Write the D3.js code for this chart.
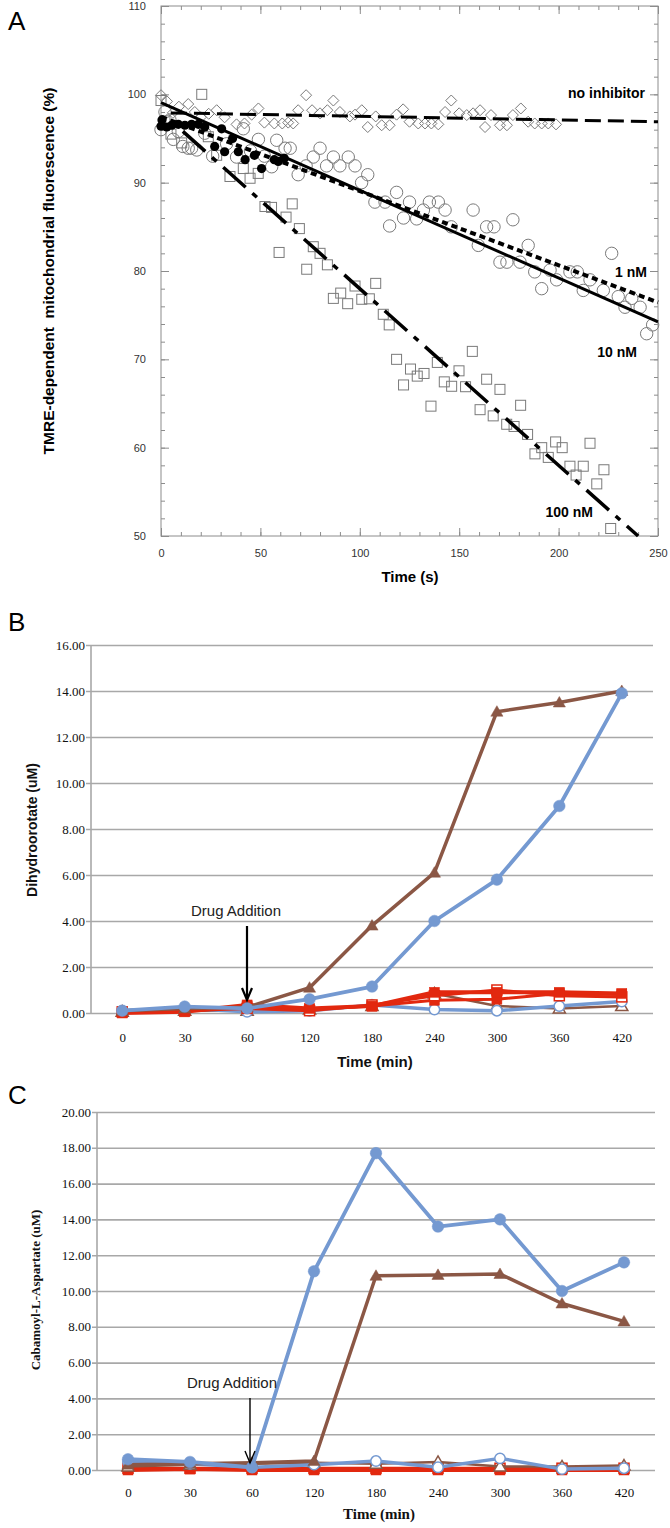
<!DOCTYPE html>
<html><head><meta charset="utf-8">
<script src="https://cdn.jsdelivr.net/npm/d3@7"></script>
<style>body{margin:0;background:#fff}</style>
</head><body><svg id="c" width="670" height="1528" xmlns="http://www.w3.org/2000/svg"></svg>
<script>
// ---------------- Panel A data ----------------
const aXTicks = [0, 50, 100, 150, 200, 250];
const aYTicks = [50, 60, 70, 80, 90, 100, 110];
const noInhibitorPts = [[0,99.9],[3,99.2],[6,97.9],[9,98.6],[13.7,98.9],[17,98.0],[20,97.4],[24,97.8],[28,98.2],[32,97.4],[38,96.6],[42,96.7],[45.6,97.7],[49,98.4],[52,96.8],[57,96.7],[61,96.7],[64,96.8],[66.5,96.7],[69,98.2],[73,99.9],[76,98.2],[80,97.85],[83.7,98.2],[86.7,99.3],[90,98.0],[95,97.5],[97.6,97.7],[101,98.2],[104,96.3],[108,97.5],[111,96.5],[115,96.5],[118.5,97.7],[121.8,98.3],[125,96.9],[129.4,96.7],[132.8,96.7],[136,96.7],[139.5,96.6],[142.9,98.0],[146,99.3],[150,97.85],[153.8,97.65],[157,97.85],[160.5,98.2],[163,96.3],[166,97.65],[170.5,96.5],[174,96.5],[177,97.65],[181,98.4],[184.7,96.9],[188,96.7],[191.5,96.7],[194.8,96.7],[198.7,96.6]];
const filledCirclePts = [[0,96.4],[0.5,97.1],[2.9,96.3],[5.4,96.5],[8.7,96.6],[12,96.5],[15.4,96.6],[18.8,96.6],[22,96.3],[27,94.1],[30.5,96.1],[32,93.5],[36,95.0],[38.9,93.5],[42.3,92.6],[47,93.1],[50.6,91.6],[57,92.6],[59,92.4],[62,92.75]];
const openCirclePts = [[0,96.0],[2,98.0],[4.5,97.1],[6.2,94.9],[8.7,95.8],[11,94.1],[13.7,93.9],[15.4,93.9],[18,93.7],[22,95.6],[26,93.0],[33,94.4],[38,92.9],[41.4,96.1],[45,93.6],[49,94.9],[52,93.0],[55.7,91.8],[58.2,94.8],[62.4,93.9],[65,93.9],[69,90.9],[73,91.9],[76.6,92.9],[80,93.9],[83.3,91.9],[86.7,92.9],[90,91.9],[94.2,92.9],[97.6,91.9],[100.9,90.0],[104,90.9],[107.6,87.8],[112.7,87.8],[115,85.1],[118.5,88.9],[122,86.0],[125,87.8],[128.6,85.9],[132,86.9],[135,87.8],[139.5,87.8],[142.9,86.9],[146,85.0],[157,86.9],[159.6,82.9],[163.8,85.0],[167.5,85.0],[170.5,81.0],[174,81.0],[177,85.8],[180.6,81.0],[184.7,82.9],[188,79.9],[191.5,78.0],[195.7,80.1],[199,79.0],[205.7,79.9],[209.4,79.9],[212.4,77.8],[215.8,79.0],[222.5,77.8],[226.7,82.0],[230,77.1],[233.4,75.9],[236.8,76.9],[241,75.9],[244.3,72.9],[247.3,73.9]];
const squarePts = [[0,99.3],[2,97.0],[5,95.5],[10.4,94.5],[20.5,100.0],[23.8,95.2],[28,93.1],[34.7,90.7],[41.4,91.6],[44.8,90.5],[48.9,91.05],[52.3,87.3],[55.6,87.2],[59.4,82.1],[62.9,86.1],[66,87.6],[69.6,84.8],[73.3,80.2],[76.6,82.75],[80,82.0],[83.7,80.7],[86.7,76.9],[90.4,77.5],[93.9,76.3],[97.6,78.3],[101,76.8],[104.8,76.85],[108,78.6],[111.8,75.1],[114.8,73.9],[118.5,70.0],[122,67.1],[125.5,68.9],[128.9,68.1],[132.3,68.4],[135.8,64.7],[139,69.65],[142.5,67.45],[146.2,66.95],[149.9,68.7],[153.2,66.9],[156.6,70.9],[160.5,64.3],[163.8,67.75],[167.1,63.6],[170.5,66.6],[173.9,62.65],[177.6,62.4],[180.9,64.8],[184.4,61.5],[188.1,59.3],[191.5,60.0],[194.8,58.9],[198.5,60.65],[201.8,60.0],[205.7,57.9],[208.8,56.9],[212.4,57.9],[215.8,60.5],[219.2,55.9],[222.8,57.5],[226.2,50.85]];
// fitted lines: [t, value] end points
const fitNoInhibitor = [[5,97.9],[250,96.9]];
const fit1nM = [[0,97.45],[250,76.45]];
const fit10nM = [[0,99.05],[250,74.25]];
const fit100nM = [[11,95.8],[240,50]];
const aLabels = [["no inhibitor",645,98],["1 nM",647,277],["10 nM",637,357],["100 nM",593,517]];

// ---------------- Panel B data ----------------
const timeCats = ["0","30","60","120","180","240","300","360","420"];
const bTicks = [0,2,4,6,8,10,12,14,16];
const bBrownFilled = [0.1,0.2,0.25,1.1,3.8,6.1,13.1,13.5,14.0];
const bBlueFilled  = [0.1,0.28,0.2,0.6,1.15,4.0,5.8,9.0,13.9];
const bRedFilled   = [0.0,0.05,0.35,0.2,0.3,0.9,0.9,0.9,0.85];
const bRedOpen     = [0.05,0.1,0.2,0.1,0.35,0.75,1.0,0.75,0.7];
const bRedX        = [0.05,0.1,0.3,0.15,0.3,0.55,0.6,0.85,0.8];
const bBlueOpen    = [0.1,0.2,0.05,0.1,0.35,0.15,0.1,0.3,0.5];
const bBrownOpen   = [0.05,0.1,0.1,0.15,0.3,0.85,0.3,0.2,0.3];

// ---------------- Panel C data ----------------
const cTicks = [0,2,4,6,8,10,12,14,16,18,20];
const cBlueFilled  = [0.6,0.45,0.15,11.1,17.7,13.6,14.0,10.0,11.6];
const cBrownFilled = [0.3,0.35,0.4,0.5,10.85,10.9,10.95,9.3,8.3];
const cRedFilled   = [0.0,0.05,0.0,0.0,0.0,0.0,0.0,0.0,0.0];
const cRedOpen     = [0.1,0.1,0.1,0.1,0.1,0.1,0.1,0.1,0.1];
const cBlueOpen    = [0.45,0.35,0.15,0.3,0.5,0.15,0.65,0.05,0.1];
const cBrownOpen   = [0.2,0.3,0.35,0.4,0.35,0.45,0.2,0.2,0.25];

const BLUE = "#7499d1", BROWN = "#8b5745", RED = "#e2280f", GRID = "#a8a8a8";
const SANS = "'Liberation Sans', Arial, sans-serif";
const NARROW = "'Liberation Sans Narrow','Arial Narrow','Liberation Sans',sans-serif";
const SERIF = "'Liberation Serif','Times New Roman',serif";

const svg = d3.select("#c");

// ================= Panel A =================
(function(){
  const g = svg.append("g");
  const x = d3.scaleLinear().domain([0,250]).range([161,658]);
  const y = d3.scaleLinear().domain([50,110]).range([536,6]);
  const fc = "#8c8c8c";
  const style = s => { s.select(".domain").remove(); s.selectAll(".tick line").attr("stroke", fc);
    s.selectAll("text").attr("font-family", SANS).attr("font-size", 11).attr("fill", "#333"); };
  const minX = d3.range(0, 251, 10), minY = d3.range(50, 111, 2);
  // bottom
  g.append("g").attr("transform",`translate(0,${y(50)})`).call(d3.axisBottom(x).tickValues(minX).tickSizeInner(-4).tickSizeOuter(0).tickFormat("")).call(style);
  g.append("g").attr("transform",`translate(0,${y(50)})`).call(d3.axisBottom(x).tickValues(aXTicks).tickSizeInner(-8).tickSizeOuter(0).tickPadding(13).tickFormat(d3.format("d"))).call(style);
  // top
  g.append("g").attr("transform",`translate(0,${y(110)})`).call(d3.axisTop(x).tickValues(minX).tickSizeInner(-4).tickSizeOuter(0).tickFormat("")).call(style);
  g.append("g").attr("transform",`translate(0,${y(110)})`).call(d3.axisTop(x).tickValues(aXTicks).tickSizeInner(-8).tickSizeOuter(0).tickFormat("")).call(style);
  // left
  g.append("g").attr("transform",`translate(${x(0)},0)`).call(d3.axisLeft(y).tickValues(minY).tickSizeInner(-4).tickSizeOuter(0).tickFormat("")).call(style);
  g.append("g").attr("transform",`translate(${x(0)},0)`).call(d3.axisLeft(y).tickValues(aYTicks).tickSizeInner(-8).tickSizeOuter(0).tickPadding(15).tickFormat(d3.format("d"))).call(style);
  // right
  g.append("g").attr("transform",`translate(${x(250)},0)`).call(d3.axisRight(y).tickValues(minY).tickSizeInner(-4).tickSizeOuter(0).tickFormat("")).call(style);
  g.append("g").attr("transform",`translate(${x(250)},0)`).call(d3.axisRight(y).tickValues(aYTicks).tickSizeInner(-8).tickSizeOuter(0).tickFormat("")).call(style);
  g.append("rect").attr("x",x(0)).attr("y",y(110)).attr("width",x(250)-x(0)).attr("height",y(50)-y(110))
    .attr("fill","none").attr("stroke",fc).attr("stroke-width",1);

  const pc = "#7a7a7a";
  // diamonds
  g.append("g").selectAll("path").data(noInhibitorPts).join("path")
    .attr("d", d => { const cx=x(d[0]), cy=y(d[1]), r=5.5; return `M${cx},${cy-r}L${cx+r},${cy}L${cx},${cy+r}L${cx-r},${cy}Z`; })
    .attr("fill","none").attr("stroke",pc).attr("stroke-width",1);
  // open circles
  g.append("g").selectAll("circle").data(openCirclePts).join("circle")
    .attr("cx", d=>x(d[0])).attr("cy", d=>y(d[1])).attr("r",6.2)
    .attr("fill","none").attr("stroke",pc).attr("stroke-width",1);
  // squares
  g.append("g").selectAll("rect").data(squarePts).join("rect")
    .attr("x", d=>x(d[0])-5).attr("y", d=>y(d[1])-5).attr("width",10).attr("height",10)
    .attr("fill","none").attr("stroke",pc).attr("stroke-width",1);
  // filled circles
  g.append("g").selectAll("circle").data(filledCirclePts).join("circle")
    .attr("cx", d=>x(d[0])).attr("cy", d=>y(d[1])).attr("r",4.6).attr("fill","#000");

  const ln = d3.line().x(d=>x(d[0])).y(d=>y(d[1]));
  g.append("path").attr("d", ln(fitNoInhibitor)).attr("stroke","#000").attr("stroke-width",3).attr("stroke-dasharray","16,7").attr("fill","none");
  g.append("path").attr("d", ln(fit1nM)).attr("stroke","#000").attr("stroke-width",4).attr("stroke-dasharray","6,4").attr("fill","none");
  g.append("path").attr("d", ln(fit10nM)).attr("stroke","#000").attr("stroke-width",3).attr("fill","none");
  g.append("path").attr("d", ln(fit100nM)).attr("stroke","#000").attr("stroke-width",3.5).attr("stroke-dasharray","30,9,6,9").attr("fill","none");

  g.selectAll("text.lab").data(aLabels).join("text").attr("class","lab")
    .attr("x", d=>d[1]).attr("y", d=>d[2]).attr("text-anchor","end")
    .attr("font-family",SANS).attr("font-weight","bold").attr("font-size",14).text(d=>d[0]);

  g.append("text").attr("x",410).attr("y",582).attr("text-anchor","middle")
    .attr("font-family",SANS).attr("font-weight","bold").attr("font-size",15).text("Time (s)");
  g.append("text").attr("transform","translate(54,271) rotate(-90)").attr("text-anchor","middle")
    .attr("font-family",SANS).attr("font-weight","bold").attr("font-size",15.5).attr("xml:space","preserve")
    .text("TMRE-dependent  mitochondrial fluorescence (%)");
  g.append("text").attr("x",8).attr("y",30).attr("font-family",SANS).attr("font-size",26).text("A");
})();

// ================= Excel-like panels =================
function excelPanel(opts){
  const g = svg.append("g");
  const x = d3.scalePoint().domain(timeCats).range([opts.x0, opts.x1]).padding(0.5);
  const y = d3.scaleLinear().domain([0, opts.ymax]).range([opts.yb, opts.yt]);
  const W = opts.x1 - opts.x0;
  // gridlines + y labels
  g.append("g").attr("transform",`translate(${opts.x0},0)`)
    .call(d3.axisLeft(y).tickValues(opts.ticks).tickSizeInner(-W).tickSizeOuter(0).tickPadding(6).tickFormat(d3.format(".2f")))
    .call(s => { s.select(".domain").remove();
      s.selectAll(".tick line").attr("x1",-5).attr("stroke",GRID).attr("stroke-width",1.6);
      s.selectAll("text").attr("font-family",SERIF).attr("font-size",13).attr("fill","#111"); });
  g.append("line").attr("x1",opts.x0).attr("x2",opts.x0).attr("y1",opts.yt).attr("y2",opts.yb).attr("stroke",GRID).attr("stroke-width",1.6);
  // x labels
  g.append("g").attr("transform",`translate(0,${opts.yb})`)
    .call(d3.axisBottom(x).tickSize(0).tickPadding(opts.xpad))
    .call(s => { s.select(".domain").remove();
      s.selectAll("text").attr("font-family",SERIF).attr("font-size",13).attr("fill","#111"); });

  const ln = d3.line().x((d,i)=>x(timeCats[i])).y(d=>y(d));
  const tri = d3.symbol().type(d3.symbolTriangle).size(64);
  function series(vals, color, marker, open, w){
    const sg = g.append("g");
    sg.append("path").attr("d", ln(vals)).attr("fill","none").attr("stroke",color).attr("stroke-width",w).attr("stroke-linejoin","round");
    const m = sg.selectAll(".m").data(vals).join(marker === "circle" ? "circle" : marker === "square" ? "rect" : "path");
    if (marker === "circle") m.attr("cx",(d,i)=>x(timeCats[i])).attr("cy",d=>y(d)).attr("r",open?5.2:5.8);
    else if (marker === "square") m.attr("x",(d,i)=>x(timeCats[i])-5).attr("y",d=>y(d)-5).attr("width",10).attr("height",10);
    else m.attr("d", tri).attr("transform",(d,i)=>`translate(${x(timeCats[i])},${y(d)+1})`);
    m.attr("fill", open ? "#fff" : color).attr("stroke", color).attr("stroke-width", open ? 1.5 : 0.5);
  }
  opts.series.forEach(s => series(...s));

  // annotation
  g.append("text").attr("x",opts.ann[0]).attr("y",opts.ann[1]).attr("text-anchor","middle")
    .attr("font-family",NARROW).attr("font-size",15).attr("fill","#222").text("Drug Addition");
  const ax = opts.arrow[0], ay0 = opts.arrow[1], ay1 = opts.arrow[2], aw = opts.arrow[3];
  g.append("line").attr("x1",ax).attr("x2",ax).attr("y1",ay0).attr("y2",ay1).attr("stroke","#000").attr("stroke-width",aw);
  g.append("path").attr("d",`M${ax-5},${ay1-12}L${ax},${ay1}L${ax+5},${ay1-12}`).attr("fill","none").attr("stroke","#000").attr("stroke-width",aw);

  g.append("text").attr("x",(opts.x0+opts.x1)/2 + 3).attr("y",opts.titleY).attr("text-anchor","middle")
    .attr("font-family",opts.titleFont).attr("font-weight","bold").attr("font-size",15).attr("fill","#111").text("Time (min)");
  g.append("text").attr("transform",`translate(${opts.ylab[0]},${opts.ylab[1]}) rotate(-90)`).attr("text-anchor","middle")
    .attr("font-family",opts.ylabFont).attr("font-weight","bold").attr("font-size",opts.ylabSize).attr("fill","#111").text(opts.ylabText);
  g.append("text").attr("x",8).attr("y",opts.letterY).attr("font-family",SANS).attr("font-size",26).text(opts.letter);
}

excelPanel({x0:91, x1:653, yb:1013, yt:645, ymax:16, ticks:bTicks, xpad:20,
  series:[
    [bBrownOpen, BROWN, "tri", true, 2.5],
    [bBlueOpen, BLUE, "circle", true, 3.5],
    [bRedX, RED, "square", false, 3],
    [bRedOpen, RED, "square", true, 3],
    [bRedFilled, RED, "square", false, 4],
    [bBrownFilled, BROWN, "tri", false, 3.5],
    [bBlueFilled, BLUE, "circle", false, 3.8]
  ],
  ann:[236,916], arrow:[247,926,1000,2.2], titleY:1067, titleFont:NARROW,
  ylab:[37,830], ylabFont:NARROW, ylabSize:14, ylabText:"Dihydroorotate (uM)", letter:"B", letterY:631});

excelPanel({x0:97, x1:655, yb:1470, yt:1112, ymax:20, ticks:cTicks, xpad:18,
  series:[
    [cRedOpen, RED, "square", true, 3],
    [cRedFilled, RED, "square", false, 4],
    [cBrownOpen, BROWN, "tri", true, 2.5],
    [cBlueOpen, BLUE, "circle", true, 3.5],
    [cBrownFilled, BROWN, "tri", false, 3.5],
    [cBlueFilled, BLUE, "circle", false, 3.8]
  ],
  ann:[232,1388], arrow:[250,1398,1463,1.4], titleY:1519, titleFont:SERIF,
  ylab:[40,1290], ylabFont:SERIF, ylabSize:13, ylabText:"Cabamoyl-L-Aspartate (uM)", letter:"C", letterY:1104});
</script></body></html>
